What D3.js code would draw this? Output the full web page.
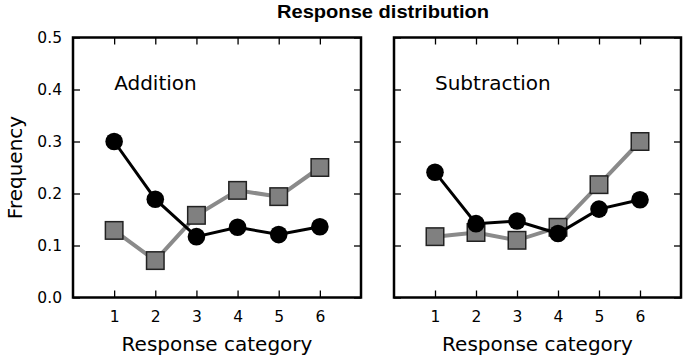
<!DOCTYPE html>
<html>
<head>
<meta charset="utf-8">
<script src="https://cdn.jsdelivr.net/npm/d3@7"></script>
<style>
  body { margin: 0; background: #fff; }
  text { font-family: "DejaVu Sans", sans-serif; fill: #000; }
</style>
</head>
<body>
<svg id="chart" width="686" height="362"></svg>
<script>
const categories = [1, 2, 3, 4, 5, 6];
const yTicks = [0.0, 0.1, 0.2, 0.3, 0.4, 0.5];
const panelNames = ["Addition", "Subtraction"];
// black circles
const additionCircles = [0.30, 0.189, 0.117, 0.135, 0.121, 0.136];
const subtractionCircles = [0.241, 0.142, 0.147, 0.123, 0.170, 0.188];
// gray squares
const additionSquares = [0.129, 0.071, 0.158, 0.206, 0.194, 0.250];
const subtractionSquares = [0.117, 0.125, 0.110, 0.135, 0.217, 0.300];

const svg = d3.select("#chart");
const yTop = 37.5, yBottom = 297.5, tick = 7;
const panels = [
  { x0: 73, x1: 361, name: panelNames[0], circles: additionCircles, squares: additionSquares },
  { x0: 394, x1: 681, name: panelNames[1], circles: subtractionCircles, squares: subtractionSquares },
];

const y = d3.scaleLinear().domain([0, 0.5]).range([yBottom, yTop]);

// title
svg.append("text")
  .attr("x", 383).attr("y", 18)
  .attr("text-anchor", "middle")
  .style("font-family", "'Liberation Sans', Arial, sans-serif")
  .style("font-weight", "bold")
  .style("font-size", "18.5px")
  .attr("textLength", 212)
  .attr("lengthAdjust", "spacingAndGlyphs")
  .text("Response distribution");

// y label
svg.append("text")
  .attr("transform", `translate(21.5,${(yTop + yBottom) / 2}) rotate(-90)`)
  .attr("text-anchor", "middle")
  .style("font-size", "20px")
  .text("Frequency");

panels.forEach((p, i) => {
  const x = d3.scaleLinear().domain([0, 7]).range([p.x0, p.x1]);
  const g = svg.append("g");

  // inward ticks on all four sides
  g.append("g").attr("transform", `translate(0,${yBottom})`)
    .call(d3.axisBottom(x).tickValues(categories).tickSizeInner(-tick).tickSizeOuter(0)
      .tickPadding(13.5).tickFormat(d3.format("d")));
  g.append("g").attr("transform", `translate(0,${yTop})`)
    .call(d3.axisTop(x).tickValues(categories).tickSizeInner(-tick).tickSizeOuter(0).tickFormat(""));
  g.append("g").attr("transform", `translate(${p.x0},0)`)
    .call(d3.axisLeft(y).tickValues(yTicks).tickSizeInner(-tick).tickSizeOuter(0).tickPadding(11)
      .tickFormat(i === 0 ? d3.format(".1f") : ""));
  g.append("g").attr("transform", `translate(${p.x1},0)`)
    .call(d3.axisRight(y).tickValues(yTicks).tickSizeInner(-tick).tickSizeOuter(0).tickFormat(""));

  g.selectAll(".domain").remove();
  g.selectAll(".tick line").attr("stroke", "#000").attr("stroke-width", 1.3);
  g.selectAll(".tick text").style("font-family", "'DejaVu Sans', sans-serif").style("font-size", "15.5px").attr("fill", "#000");

  // frame
  g.append("rect")
    .attr("x", p.x0).attr("y", yTop)
    .attr("width", p.x1 - p.x0).attr("height", yBottom - yTop)
    .attr("fill", "none").attr("stroke", "#000").attr("stroke-width", 2.5);

  // panel label
  g.append("text")
    .attr("x", x(1)).attr("y", y(0.4))
    .style("font-size", "20px")
    .text(p.name);

  // x label
  g.append("text")
    .attr("x", (p.x0 + p.x1) / 2).attr("y", 351)
    .attr("text-anchor", "middle")
    .style("font-size", "20px")
    .text("Response category");

  const line = d3.line().x((d, j) => x(categories[j])).y((d) => y(d));

  // gray squares series
  g.append("path").datum(p.squares)
    .attr("d", line).attr("fill", "none")
    .attr("stroke", "#8a8a8a").attr("stroke-width", 4);
  const s = 17.5;
  g.selectAll(".sq").data(p.squares).join("rect")
    .attr("class", "sq")
    .attr("x", (d, j) => x(categories[j]) - s / 2)
    .attr("y", (d) => y(d) - s / 2)
    .attr("width", s).attr("height", s)
    .attr("fill", "#808080").attr("stroke", "#222").attr("stroke-width", 1.5);

  // black circles series
  g.append("path").datum(p.circles)
    .attr("d", line).attr("fill", "none")
    .attr("stroke", "#000").attr("stroke-width", 3);
  g.selectAll(".dot").data(p.circles).join("circle")
    .attr("class", "dot")
    .attr("cx", (d, j) => x(categories[j]))
    .attr("cy", (d) => y(d))
    .attr("r", 8.8)
    .attr("fill", "#000");
});
</script>
</body>
</html>
